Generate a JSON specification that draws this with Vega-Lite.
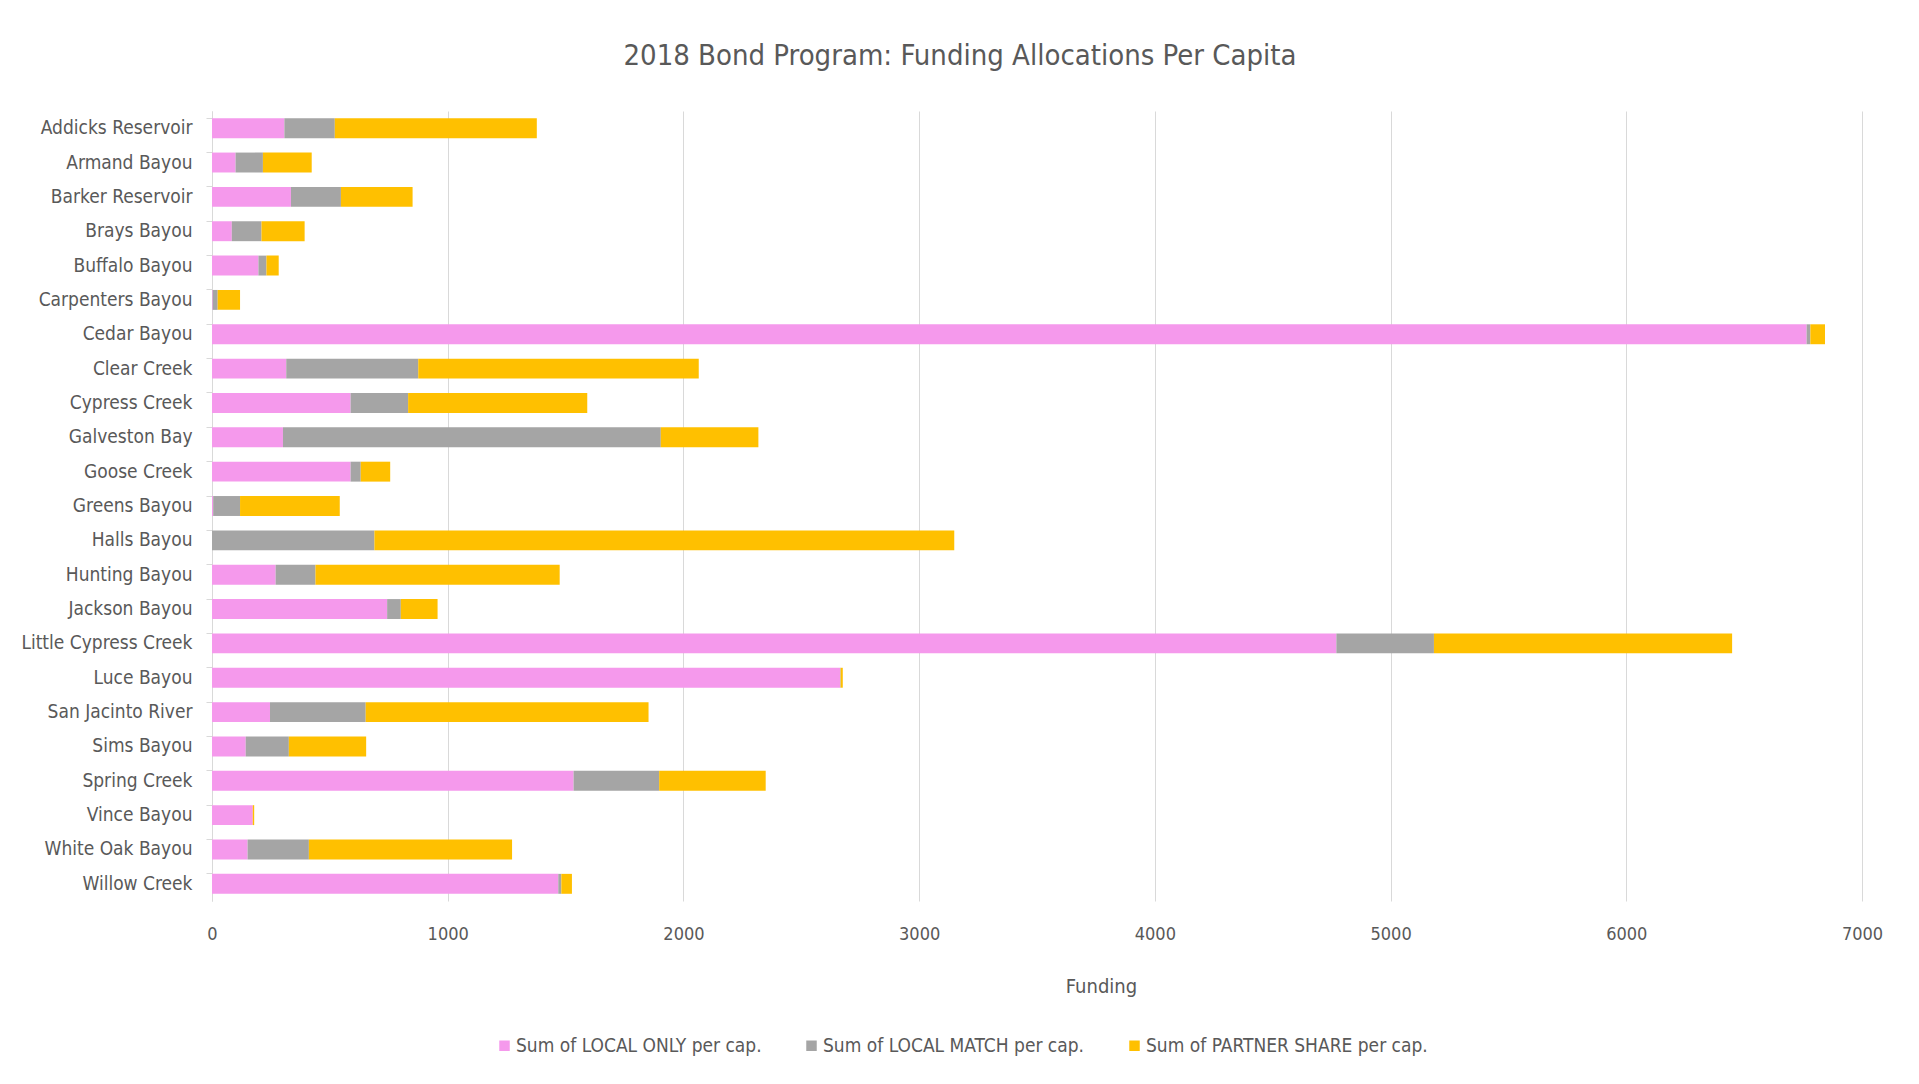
{
  "$schema": "https://vega.github.io/schema/vega-lite/v6.json",
  "autosize": {"type": "none"},
  "width": 1650,
  "height": 790,
  "padding": {"left": 212, "top": 111, "right": 57, "bottom": 183},
  "background": "white",
  "title": {
    "text": "2018 Bond Program: Funding Allocations Per Capita",
    "font": "Liberation Sans Narrow, DejaVu Sans Condensed, Roboto",
    "fontSize": 29,
    "fontWeight": "normal",
    "color": "#595959",
    "anchor": "middle",
    "dx": -77,
    "offset": 40
  },
  "data": {
    "values": [
      {"region": "Addicks Reservoir", "LOCAL ONLY": 307, "LOCAL MATCH": 214, "PARTNER SHARE": 857},
      {"region": "Armand Bayou", "LOCAL ONLY": 100, "LOCAL MATCH": 116, "PARTNER SHARE": 207},
      {"region": "Barker Reservoir", "LOCAL ONLY": 335, "LOCAL MATCH": 212, "PARTNER SHARE": 304},
      {"region": "Brays Bayou", "LOCAL ONLY": 84, "LOCAL MATCH": 126, "PARTNER SHARE": 183},
      {"region": "Buffalo Bayou", "LOCAL ONLY": 197, "LOCAL MATCH": 34, "PARTNER SHARE": 52},
      {"region": "Carpenters Bayou", "LOCAL ONLY": 3, "LOCAL MATCH": 21, "PARTNER SHARE": 95},
      {"region": "Cedar Bayou", "LOCAL ONLY": 6765, "LOCAL MATCH": 16, "PARTNER SHARE": 62},
      {"region": "Clear Creek", "LOCAL ONLY": 315, "LOCAL MATCH": 560, "PARTNER SHARE": 1190},
      {"region": "Cypress Creek", "LOCAL ONLY": 588, "LOCAL MATCH": 244, "PARTNER SHARE": 760},
      {"region": "Galveston Bay", "LOCAL ONLY": 301, "LOCAL MATCH": 1603, "PARTNER SHARE": 414},
      {"region": "Goose Creek", "LOCAL ONLY": 588, "LOCAL MATCH": 43, "PARTNER SHARE": 125},
      {"region": "Greens Bayou", "LOCAL ONLY": 5, "LOCAL MATCH": 114, "PARTNER SHARE": 423},
      {"region": "Halls Bayou", "LOCAL ONLY": 0, "LOCAL MATCH": 689, "PARTNER SHARE": 2460},
      {"region": "Hunting Bayou", "LOCAL ONLY": 270, "LOCAL MATCH": 169, "PARTNER SHARE": 1036},
      {"region": "Jackson Bayou", "LOCAL ONLY": 743, "LOCAL MATCH": 58, "PARTNER SHARE": 156},
      {"region": "Little Cypress Creek", "LOCAL ONLY": 4770, "LOCAL MATCH": 414, "PARTNER SHARE": 1265},
      {"region": "Luce Bayou", "LOCAL ONLY": 2665, "LOCAL MATCH": 2, "PARTNER SHARE": 9},
      {"region": "San Jacinto River", "LOCAL ONLY": 246, "LOCAL MATCH": 406, "PARTNER SHARE": 1200},
      {"region": "Sims Bayou", "LOCAL ONLY": 143, "LOCAL MATCH": 183, "PARTNER SHARE": 328},
      {"region": "Spring Creek", "LOCAL ONLY": 1534, "LOCAL MATCH": 363, "PARTNER SHARE": 452},
      {"region": "Vince Bayou", "LOCAL ONLY": 173, "LOCAL MATCH": 0, "PARTNER SHARE": 6},
      {"region": "White Oak Bayou", "LOCAL ONLY": 151, "LOCAL MATCH": 260, "PARTNER SHARE": 862},
      {"region": "Willow Creek", "LOCAL ONLY": 1469, "LOCAL MATCH": 13, "PARTNER SHARE": 45}
    ]
  },
  "transform": [
    {"fold": ["LOCAL ONLY", "LOCAL MATCH", "PARTNER SHARE"], "as": ["series", "value"]},
    {"calculate": "indexof(['LOCAL ONLY', 'LOCAL MATCH', 'PARTNER SHARE'], datum.series)", "as": "ord"}
  ],
  "mark": {"type": "bar"},
  "encoding": {
    "y": {
      "field": "region",
      "type": "nominal",
      "sort": "ascending",
      "scale": {"paddingInner": 0.42, "paddingOuter": 0.21},
      "axis": {
        "title": null,
        "domainColor": "#d9d9d9",
        "tickColor": "#d9d9d9",
        "tickSize": 6,
        "bandPosition": 0,
        "labelPadding": 14,
        "labelFont": "Liberation Sans Narrow, DejaVu Sans Condensed, Roboto",
        "labelFontSize": 19,
        "labelColor": "#595959",
        "grid": false
      }
    },
    "x": {
      "field": "value",
      "type": "quantitative",
      "stack": "zero",
      "scale": {"domain": [0, 7000], "nice": false},
      "axis": {
        "title": "Funding",
        "titleFont": "Liberation Sans Narrow, DejaVu Sans Condensed, Roboto",
        "titleFontSize": 20,
        "titleFontWeight": "normal",
        "titleColor": "#595959",
        "titleX": 889,
        "titleY": 85,
        "titleBaseline": "middle",
        "values": [0, 1000, 2000, 3000, 4000, 5000, 6000, 7000],
        "format": "d",
        "domain": false,
        "ticks": false,
        "grid": true,
        "gridColor": "#d9d9d9",
        "labelPadding": 24,
        "labelFlush": false,
        "labelFont": "Liberation Sans Narrow, DejaVu Sans Condensed, Roboto",
        "labelFontSize": 18,
        "labelColor": "#595959"
      }
    },
    "color": {
      "field": "series",
      "type": "nominal",
      "scale": {
        "domain": ["LOCAL ONLY", "LOCAL MATCH", "PARTNER SHARE"],
        "range": ["#F599EC", "#A5A5A5", "#FFC000"]
      },
      "legend": {
        "title": null,
        "orient": "none",
        "direction": "horizontal",
        "legendX": 283,
        "legendY": 925,
        "symbolType": "square",
        "symbolSize": 110,
        "symbolStrokeWidth": 0,
        "columnPadding": 40,
        "labelOffset": 2,
        "labelExpr": "'Sum of ' + datum.label + ' per cap.'",
        "labelFont": "Liberation Sans Narrow, DejaVu Sans Condensed, Roboto",
        "labelFontSize": 19,
        "labelColor": "#595959",
        "labelLimit": 400
      }
    },
    "order": {"field": "ord", "type": "quantitative"}
  },
  "config": {
    "view": {"stroke": null}
  }
}
